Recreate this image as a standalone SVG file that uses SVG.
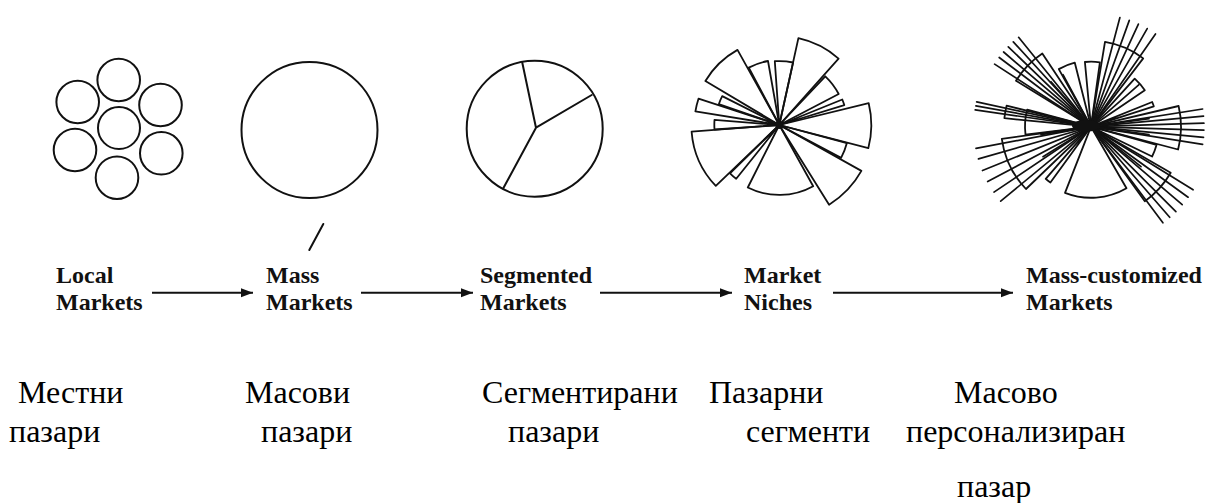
<svg xmlns="http://www.w3.org/2000/svg" width="1208" height="503" viewBox="0 0 1208 503">
<style>
.ln{fill:none;stroke:#111;stroke-width:2;stroke-linejoin:round;stroke-linecap:round}
.wd{fill:none;stroke:#111;stroke-width:1.8;stroke-linejoin:round}
.ray{stroke:#111;stroke-width:1.7;stroke-linecap:round}
.en{font-family:"Liberation Serif","Times New Roman",serif;font-weight:bold;font-size:24px;fill:#111}
.bg{font-family:"Liberation Serif","Times New Roman",serif;font-size:32px;fill:#000}
.arr{stroke:#111;stroke-width:2;fill:none}
</style>
<defs>
<marker id="ah" markerUnits="userSpaceOnUse" markerWidth="13" markerHeight="10" refX="12" refY="4.5" orient="auto">
<path d="M0,0 L12,4.5 L0,9 Z" fill="#111"/>
</marker>
</defs>
<rect width="1208" height="503" fill="#fff"/>

<g id="local-markets">
<circle class="ln" cx="119" cy="128" r="21"/>
<circle class="ln" cx="118.7" cy="80" r="21.3"/>
<circle class="ln" cx="77.7" cy="102" r="21.3"/>
<circle class="ln" cx="160.5" cy="105" r="21.3"/>
<circle class="ln" cx="75" cy="150" r="21.3"/>
<circle class="ln" cx="161.3" cy="153.3" r="21.3"/>
<circle class="ln" cx="117" cy="177.7" r="21.3"/>
<text class="en" x="56" y="283">Local</text>
<text class="en" x="56" y="310">Markets</text>
<text class="bg" x="18" y="403">Местни</text>
<text class="bg" x="9" y="442">пазари</text>
</g>

<g id="mass-markets">
<circle class="ln" cx="309.5" cy="130" r="68"/>
<line class="ln" x1="323.3" y1="224" x2="309.3" y2="250" stroke-width="1.6"/>
<text class="en" x="266" y="283">Mass</text>
<text class="en" x="266" y="310">Markets</text>
<text class="bg" x="245" y="403">Масови</text>
<text class="bg" x="261" y="442">пазари</text>
</g>

<g id="segmented-markets">
<circle class="ln" cx="534.7" cy="128.7" r="68"/>
<path class="ln" d="M522.3,62.7 L536,127.7 L591.7,95 M536,127.7 L503.3,188.3"/>
<text class="en" x="480" y="283">Segmented</text>
<text class="en" x="480" y="310">Markets</text>
<text class="bg" x="482" y="403">Сегментирани</text>
<text class="bg" x="508" y="442">пазари</text>
</g>

<g id="market-niches">
<g transform="translate(779.3,125)">
<path class="wd" d="M0,0 L19.1,-86.9 A89,89 0 0 1 59.3,-66.4 Z"/>
<path class="wd" d="M0,0 L46,-48.7 A67,67 0 0 1 59.4,-31 Z"/>
<path class="wd" d="M0,0 L63,-25.5 A68,68 0 0 1 65,-19.9 Z"/>
<path class="wd" d="M0,0 L89.4,-21.8 A92,92 0 0 1 89,23.2 Z"/>
<path class="wd" d="M0,0 L67.6,18.1 A70,70 0 0 1 61.8,32.9 Z"/>
<path class="wd" d="M0,0 L82.1,45.9 A94,94 0 0 1 49.8,79.7 Z"/>
<path class="wd" d="M0,0 L33.9,61.2 A70,70 0 0 1 -31.5,62.5 Z"/>
<path class="wd" d="M0,0 L-43.1,53.8 A69,69 0 0 1 -49.3,48.3 Z"/>
<path class="wd" d="M0,0 L-63.5,60.9 A88,88 0 0 1 -87.7,6.7 Z"/>
<path class="wd" d="M0,0 L-64.8,4.5 A65,65 0 0 1 -64.8,-5.1 Z"/>
<path class="wd" d="M0,0 L-83.9,-13.7 A85,85 0 0 1 -80.8,-26.3 Z"/>
<path class="wd" d="M0,0 L-60.5,-20.8 A64,64 0 0 1 -57.1,-28.9 Z"/>
<path class="wd" d="M0,0 L-73.9,-44 A86,86 0 0 1 -41.8,-75.1 Z"/>
<path class="wd" d="M0,0 L-30.5,-57.4 A65,65 0 0 1 -11.3,-64 Z"/>
<path class="wd" d="M0,0 L-4.5,-63.8 A64,64 0 0 1 13.8,-62.5 Z"/>
<circle cx="0" cy="0" r="4" fill="#111"/>
</g>
<text class="en" x="744" y="283">Market</text>
<text class="en" x="744" y="310">Niches</text>
<text class="bg" x="709" y="403">Пазарни</text>
<text class="bg" x="746" y="442">сегменти</text>
</g>

<g id="mass-customized-markets">
<g transform="translate(1091,126.7)">
<path class="wd" d="M0,0 L-75,-46 A88,88 0 0 1 -48.7,-73.3 Z"/>
<path class="wd" d="M0,0 L-32.2,-57.6 A66,66 0 0 1 -16.2,-64 Z"/>
<path class="wd" d="M0,0 L-6.1,-64.7 A65,65 0 0 1 8.9,-64.4 Z"/>
<path class="wd" d="M0,0 L14,-84.8 A86,86 0 0 1 52.2,-68.3 Z"/>
<path class="wd" d="M0,0 L43.7,-48.1 A65,65 0 0 1 53.8,-36.5 Z"/>
<path class="wd" d="M0,0 L61.2,-24.7 A66,66 0 0 1 62.8,-20.4 Z"/>
<path class="wd" d="M0,0 L87.6,-20.7 A90,90 0 0 1 87.1,22.8 Z"/>
<path class="wd" d="M0,0 L65.5,18.2 A68,68 0 0 1 61.1,29.8 Z"/>
<path class="wd" d="M0,0 L79.7,46 A92,92 0 0 1 53.8,74.6 Z"/>
<path class="wd" d="M0,0 L35.5,61.5 A71,71 0 0 1 -26,66.1 Z"/>
<path class="wd" d="M0,0 L-40.6,55.8 A69,69 0 0 1 -45.3,52.1 Z"/>
<path class="wd" d="M0,0 L-65,62.3 A90,90 0 0 1 -89.2,12.1 Z"/>
<path class="wd" d="M0,0 L-65.5,8 A66,66 0 0 1 -63.8,-17.1 Z"/>
<path class="wd" d="M0,0 L-86.6,-8.5 A87,87 0 0 1 -84.4,-21 Z"/>
<g class="ray">
<line x1="0" y1="0" x2="-96.4" y2="-62.6"/>
<line x1="0" y1="0" x2="-91.8" y2="-69.2"/>
<line x1="0" y1="0" x2="-87.4" y2="-74.7"/>
<line x1="0" y1="0" x2="-82.7" y2="-79.9"/>
<line x1="0" y1="0" x2="-77.7" y2="-84.8"/>
<line x1="0" y1="0" x2="-72.4" y2="-89.4"/>
<line x1="0" y1="0" x2="28.9" y2="-109.2"/>
<line x1="0" y1="0" x2="38.3" y2="-106.3"/>
<line x1="0" y1="0" x2="47.4" y2="-102.6"/>
<line x1="0" y1="0" x2="56.2" y2="-98.1"/>
<line x1="0" y1="0" x2="64.5" y2="-92.8"/>
<line x1="0" y1="0" x2="111.6" y2="-17.7"/>
<line x1="0" y1="0" x2="112.5" y2="-10.6"/>
<line x1="0" y1="0" x2="112.9" y2="-3.5"/>
<line x1="0" y1="0" x2="112.9" y2="3.5"/>
<line x1="0" y1="0" x2="112.5" y2="10.6"/>
<line x1="0" y1="0" x2="111.6" y2="17.7"/>
<line x1="0" y1="0" x2="102.1" y2="63.1"/>
<line x1="0" y1="0" x2="97.1" y2="70.5"/>
<line x1="0" y1="0" x2="91.2" y2="77.9"/>
<line x1="0" y1="0" x2="84.9" y2="84.9"/>
<line x1="0" y1="0" x2="78.7" y2="90.6"/>
<line x1="0" y1="0" x2="71.9" y2="96.1"/>
<line x1="0" y1="0" x2="-90.3" y2="74.4"/>
<line x1="0" y1="0" x2="-97" y2="65.4"/>
<line x1="0" y1="0" x2="-103.3" y2="54.9"/>
<line x1="0" y1="0" x2="-108.5" y2="43.8"/>
<line x1="0" y1="0" x2="-112.5" y2="32.2"/>
<line x1="0" y1="0" x2="-115" y2="21.7"/>
<line x1="0" y1="0" x2="-115.8" y2="-16.9"/>
<line x1="0" y1="0" x2="-115.1" y2="-20.9"/>
<line x1="0" y1="0" x2="-114.3" y2="-24.9"/>
<line x1="0" y1="0" x2="-40" y2="-45"/>
<line x1="0" y1="0" x2="-28" y2="-52"/>
<line x1="0" y1="0" x2="48" y2="-42"/>
<line x1="0" y1="0" x2="58" y2="-8"/>
<line x1="0" y1="0" x2="58" y2="8"/>
<line x1="0" y1="0" x2="50" y2="40"/>
<line x1="0" y1="0" x2="-50" y2="8"/>
<line x1="0" y1="0" x2="-48" y2="30"/>
</g>
<ellipse cx="-5" cy="-1" rx="14" ry="6" fill="#111"/>
</g>
<text class="en" x="1026" y="283">Mass-customized</text>
<text class="en" x="1026" y="310">Markets</text>
<text class="bg" x="954" y="403">Масово</text>
<text class="bg" x="906" y="442">персонализиран</text>
<text class="bg" x="957" y="497">пазар</text>
</g>

<g id="connectors">
<line class="arr" x1="152" y1="292.7" x2="253" y2="292.7" marker-end="url(#ah)"/>
<line class="arr" x1="361" y1="292.7" x2="473" y2="292.7" marker-end="url(#ah)"/>
<line class="arr" x1="600" y1="292.7" x2="732" y2="292.7" marker-end="url(#ah)"/>
<line class="arr" x1="833" y1="292.7" x2="1013" y2="292.7" marker-end="url(#ah)"/>
</g>
</svg>
